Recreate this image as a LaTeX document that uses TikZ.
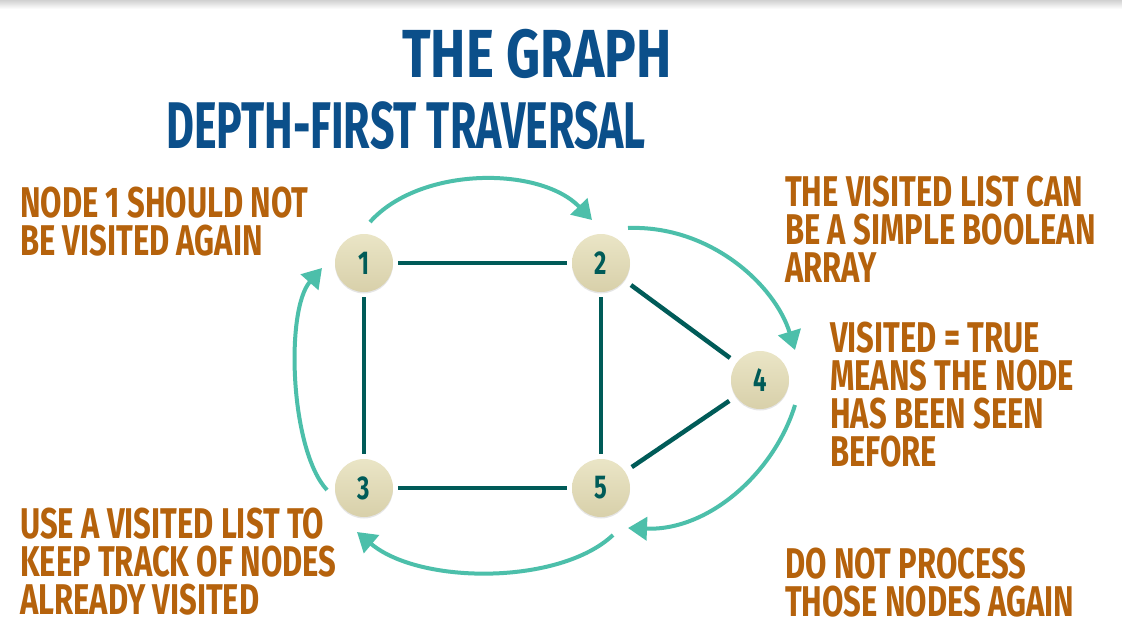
\documentclass[tikz,border=0pt]{standalone}
\usepackage{fontspec}
\newfontfamily\hand{Fira Sans}[FakeStretch=0.72]
\newfontfamily\handT{Fira Sans}[FakeStretch=0.78]
\newfontfamily\handS{Fira Sans}[FakeStretch=0.65]
\usetikzlibrary{arrows.meta,calc,shadows}
\definecolor{titleblue}{HTML}{0B4F8A}
\definecolor{noteorange}{HTML}{B5620C}
\definecolor{edgeteal}{HTML}{005B58}
\definecolor{arrowteal}{HTML}{4CBFAA}
\definecolor{nodetop}{HTML}{EAE5C6}
\definecolor{nodebot}{HTML}{D8D0AA}
\begin{document}
\begin{tikzpicture}[x=1pt,y=-1pt,
  vnode/.style={circle, minimum size=58pt, inner sep=0pt, top color=nodetop, bottom color=nodebot,
    drop shadow={opacity=0.2, shadow xshift=0pt, shadow yshift=-1.5pt},
    text=edgeteal, font=\hand\bfseries\fontsize{33}{33}\selectfont},
  edge/.style={draw=edgeteal, line width=4.5pt, shorten <=5pt, shorten >=5pt},
  diag/.style={edge, shorten <=8pt, shorten >=8pt},
  travel/.style={draw=arrowteal, line width=4pt, -{Triangle[length=19pt,width=23pt]}},
  note/.style={anchor=north west, inner sep=0pt, align=left, text=noteorange,
    font=\hand\bfseries\fontsize{43}{38}\selectfont},
  heading/.style={inner sep=0pt, text=titleblue}
]
\useasboundingbox (0,0) rectangle (1122,629);
\fill[white] (0,0) rectangle (1122,629);
\shade[top color=black!18, bottom color=white] (0,0) rectangle (1122,9);

% titles
\node[heading, font=\handT\bfseries\fontsize{68}{68}\selectfont] (title) at (537,54) {THE GRAPH};
\node[heading, font=\handS\bfseries\fontsize{66}{66}\selectfont] (subtitle) at (406,126) {DEPTH-FIRST TRAVERSAL};

% vertices
\node[vnode] (n1) at (364,263) {1};
\node[vnode] (n2) at (601,263) {2};
\node[vnode] (n3) at (364,488) {3};
\node[vnode] (n4) at (760,380) {4};
\node[vnode] (n5) at (601,488) {5};

% edges
\draw[edge] (n1) -- (n2);
\draw[edge] (n1) -- (n3);
\draw[edge] (n2) -- (n5);
\draw[edge] (n3) -- (n5);
\draw[diag] (n2) -- (n4);
\draw[diag] (n4) -- (n5);

% traversal arrow end points
\coordinate (a12s) at ($(n1)+(6,-41)$);
\coordinate (a12e) at ($(n2)+(-9,-43)$);
\coordinate (a24s) at ($(n2)+(27,-35)$);
\coordinate (a24e) at ($(n4)+(35,-30)$);
\coordinate (a45s) at ($(n4)+(35,25)$);
\coordinate (a45e) at ($(n5)+(27,40)$);
\coordinate (a53s) at ($(n5)+(12,47)$);
\coordinate (a53e) at ($(n3)+(-7,44)$);
\coordinate (a31s) at ($(n3)+(-37,2)$);
\coordinate (a31e) at ($(n1)+(-42,5)$);

\draw[travel] (a12s) .. controls (420,166) and (540,166) .. (a12e);
\draw[travel] (a24s) .. controls (710,225) and (775,285) .. (a24e);
\draw[travel] (a45s) .. controls (775,471) and (710,531) .. (a45e);
\draw[travel] (a53s) .. controls (560,585) and (420,585) .. (a53e);
\draw[travel] (a31s) .. controls (290,450) and (285,310) .. (a31e);

% notes
\node[note] (t1) at (20,187) {NODE 1 SHOULD NOT\\BE VISITED AGAIN};
\node[note] (t2) at (785,176) {THE VISITED LIST CAN\\BE A SIMPLE BOOLEAN\\ARRAY};
\node[note] (t3) at (830,322) {VISITED = TRUE\\MEANS THE NODE\\HAS BEEN SEEN\\BEFORE};
\node[note] (t4) at (20,508) {USE A VISITED LIST TO\\KEEP TRACK OF NODES\\ALREADY VISITED};
\node[note] (t5) at (785,548) {DO NOT PROCESS\\THOSE NODES AGAIN};
\end{tikzpicture}
\end{document}
